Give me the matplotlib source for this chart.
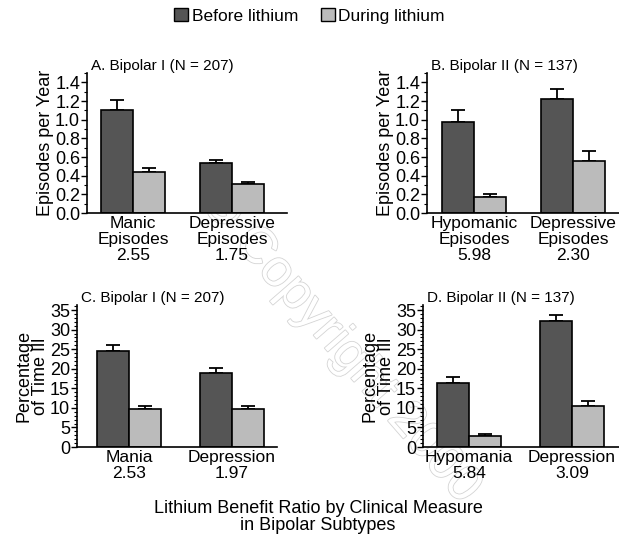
import matplotlib
matplotlib.use("Agg")
import matplotlib.pyplot as plt
from matplotlib.patches import Patch
from matplotlib.ticker import MultipleLocator
import matplotlib.patheffects as pe

plt.rcParams['font.family'] = ['Liberation Sans', 'DejaVu Sans']

# data
titles = ["A. Bipolar I (N = 207)", "B. Bipolar II (N = 137)",
          "C. Bipolar I (N = 207)", "D. Bipolar II (N = 137)"]
categories = [["Manic\nEpisodes\n2.55", "Depressive\nEpisodes\n1.75"],
              ["Hypomanic\nEpisodes\n5.98", "Depressive\nEpisodes\n2.30"],
              ["Mania\n2.53", "Depression\n1.97"],
              ["Hypomania\n5.84", "Depression\n3.09"]]
before = [[1.10, 0.54], [0.98, 1.22], [24.6, 18.8], [16.3, 32.1]]
before_err = [[0.11, 0.03], [0.12, 0.11], [1.6, 1.4], [1.5, 1.6]]
during = [[0.44, 0.31], [0.17, 0.56], [9.7, 9.7], [2.7, 10.4]]
during_err = [[0.04, 0.025], [0.035, 0.10], [0.9, 0.8], [0.6, 1.4]]
ylabels = ["Episodes per Year", "Episodes per Year",
           "Percentage\nof Time Ill", "Percentage\nof Time Ill"]

W, H = 619, 539
# layout in pixels: axes left, right, bottom, top, group centers
layout = [(87, 287, 213, 73, 133, 232),
          (427, 619, 213, 73, 474, 573),
          (77, 277, 447, 305, 129, 232),
          (423, 619, 447, 305, 469, 572)]
ylims = [(0, 1.5, 0.2, 0.1), (0, 1.5, 0.2, 0.1),
         (0, 36.3, 5, 1), (0, 36.3, 5, 1)]

dark = "#555555"
light = "#bbbbbb"

fig = plt.figure(figsize=(W / 100, H / 100), dpi=100)

# faint watermark behind everything
fig.text(340 / W, 1 - 345 / H, "\u00a9 Copyright 2000", ha="center",
         va="center", rotation=-49, fontsize=37, color="white",
         path_effects=[pe.withStroke(linewidth=1.2, foreground="#d4d4d4")],
         zorder=-5)

for i in range(4):
    l, r, b, t, c0, c1 = layout[i]
    ax = fig.add_axes([l / W, 1 - b / H, (r - l) / W, (b - t) / H])
    ax.patch.set_visible(False)
    unit = c1 - c0
    bw = 32 / unit
    x = [0, 1]
    ax.bar([v - bw / 2 for v in x], before[i], width=bw, color=dark,
           edgecolor="black", linewidth=1.2, zorder=2)
    ax.bar([v + bw / 2 for v in x], during[i], width=bw, color=light,
           edgecolor="black", linewidth=1.2, zorder=2)
    ax.errorbar([v - bw / 2 for v in x], before[i],
                yerr=[[0, 0], before_err[i]], fmt="none", ecolor="black",
                elinewidth=1.3, capsize=5, capthick=1.3, zorder=1)
    ax.errorbar([v + bw / 2 for v in x], during[i],
                yerr=[[0, 0], during_err[i]], fmt="none", ecolor="black",
                elinewidth=1.3, capsize=5, capthick=1.3, zorder=1)
    ax.set_xlim((l - c0) / unit, (r - c0) / unit)
    y0, y1, major, minor = ylims[i]
    ax.set_ylim(y0, y1)
    ax.yaxis.set_major_locator(MultipleLocator(major))
    ax.yaxis.set_minor_locator(MultipleLocator(minor))
    if major < 1:
        ax.yaxis.set_major_formatter(plt.FormatStrFormatter("%.1f"))
    ax.set_xticks(x)
    ax.set_xticklabels(categories[i], fontsize=12.5, linespacing=1.1)
    ax.tick_params(axis="x", length=0, pad=2)
    ax.tick_params(axis="y", which="major", length=4, width=1, labelsize=13, pad=1)
    ax.tick_params(axis="y", which="minor", length=2, width=0.8)
    for s in ["top", "right"]:
        ax.spines[s].set_visible(False)
    for s in ["left", "bottom"]:
        ax.spines[s].set_linewidth(1.2)
    ax.set_ylabel(ylabels[i], fontsize=13, labelpad=1, linespacing=0.9)
    ax.text(0.02, 1.0, titles[i], transform=ax.transAxes, fontsize=11,
            ha="left", va="bottom")

handles = [Patch(facecolor=dark, edgecolor="black", label="Before lithium"),
           Patch(facecolor=light, edgecolor="black", label="During lithium")]
fig.legend(handles=handles, loc="center", bbox_to_anchor=(0.5, 1 - 16 / H),
           ncol=2, frameon=False, fontsize=12.5, handlelength=0.8,
           handleheight=0.8, handletextpad=0.2, columnspacing=1.3)

fig.text(318 / W, 1 - 517 / H,
         "Lithium Benefit Ratio by Clinical Measure\nin Bipolar Subtypes",
         ha="center", va="center", fontsize=13, linespacing=1.0)

fig.savefig("out.png", dpi=100)
